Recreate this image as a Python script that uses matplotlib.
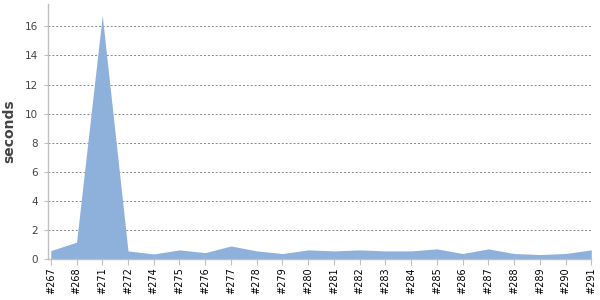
import matplotlib
matplotlib.use("Agg")
import matplotlib.pyplot as plt
import numpy as np

# Build labels and durations
builds = ['#267', '#268', '#271', '#272', '#274', '#275', '#276', '#277',
          '#278', '#279', '#280', '#281', '#282', '#283', '#284', '#285',
          '#286', '#287', '#288', '#289', '#290', '#291']
seconds = [0.57, 1.15, 16.75, 0.55, 0.34, 0.62, 0.43, 0.89,
           0.55, 0.37, 0.62, 0.55, 0.62, 0.55, 0.55, 0.69,
           0.37, 0.69, 0.37, 0.30, 0.37, 0.62]

AREA_COLOR = '#8db1db'
SPINE_COLOR = '#c0c0c0'
TEXT_COLOR = '#444444'

fig = plt.figure(figsize=(6, 3), dpi=100)
ax = fig.add_axes([0.0795, 0.137, 0.906, 0.85])

x = np.arange(len(builds))
ax.fill_between(x, seconds, 0, color=AREA_COLOR, linewidth=0)

ax.set_xlim(-0.12, len(builds) - 1)
ax.set_ylim(0, 17.55)
ax.set_yticks(range(0, 17, 2))
ax.set_xticks(x)
ax.set_xticklabels(builds, rotation=90, fontsize=7, color='black')
ax.tick_params(axis='y', labelsize=7.5, labelcolor=TEXT_COLOR, length=3,
               color=SPINE_COLOR, pad=4)
ax.tick_params(axis='x', length=4, color=SPINE_COLOR, pad=2)

# dashed horizontal grid, skip the zero line
for v in range(2, 17, 2):
    ax.axhline(v, color='#888888', linestyle=(0, (2, 2)), linewidth=0.7, zorder=0)

for side in ['top', 'right']:
    ax.spines[side].set_visible(False)
for side in ['left', 'bottom']:
    ax.spines[side].set_color(SPINE_COLOR)
    ax.spines[side].set_linewidth(1)

ax.set_ylabel('seconds', fontsize=10, fontweight='bold', color=TEXT_COLOR, labelpad=6)

fig.savefig('out.png', dpi=100)
